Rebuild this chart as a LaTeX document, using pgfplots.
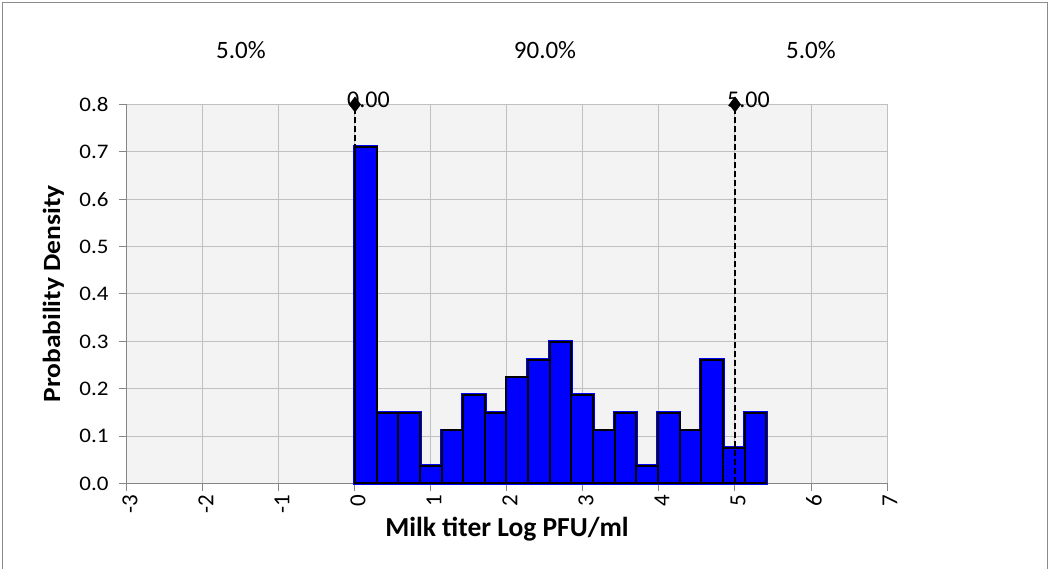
\documentclass[border=0pt]{standalone}
\usepackage{pgfplots}
\pgfplotsset{compat=1.18}
\usepackage{fontspec}
\usepackage{graphicx}
\setmainfont{Carlito}
\definecolor{gridc}{HTML}{C0C0C0}
\definecolor{axc}{HTML}{868686}
\definecolor{bgc}{HTML}{F3F3F3}
\definecolor{frc}{HTML}{8C8C8C}
\begin{document}
\begin{tikzpicture}[x=1pt,y=1pt]
\begin{axis}[
  scale only axis, width=760pt, height=379pt,
  xmin=-3, xmax=7, ymin=0, ymax=0.8,
  xtick={-3,...,7}, ytick={0,0.1,...,0.8},
  axis background/.style={fill=bgc},
  grid=major, major grid style={gridc, line width=1pt},
  axis line style={axc, line width=1pt},
  tick style={axc, line width=1pt},
  tick align=outside, major tick length=8pt,
  axis x line*=bottom, axis y line*=left,
  every x tick label/.style={rotate=90, anchor=east},
  /pgf/number format/assume math mode=true,
  yticklabel={\scalebox{1}[0.9]{\pgfmathprintnumber[fixed,fixed zerofill,precision=1]{\tick}}},
  xticklabel style={/pgf/number format/fixed},
  ticklabel style={font=\fontsize{23}{26}\selectfont},
  xticklabel style={yshift=-3pt},
  yticklabel style={xshift=-7pt},
  xlabel={\textbf{Milk titer Log PFU/ml}},
  ylabel={\scalebox{1}[0.9]{\textbf{Probability Density}}},
  label style={font=\fontsize{27.5}{30}\selectfont},
  xlabel style={at={(axis description cs:0.5,-0.12)}, anchor=center},
  ylabel style={at={(axis description cs:-0.097,0.5)}, anchor=center},
  clip=false,
]
\coordinate (ll) at (rel axis cs:0,0);
\addplot[ybar interval, fill=blue, draw=blue, line width=3.5pt] coordinates {
(0,0.710) (0.2847,0.1495) (0.5695,0.1495) (0.8542,0.0374) (1.1389,0.1121)
(1.4237,0.1869) (1.7084,0.1495) (1.9932,0.2242) (2.2779,0.2616) (2.5626,0.299)
(2.8474,0.1869) (3.1321,0.1121) (3.4168,0.1495) (3.7016,0.0374) (3.9863,0.1495)
(4.2711,0.1121) (4.5558,0.2616) (4.8405,0.0747) (5.1253,0.1495) (5.41,0.1495)
};
\addplot[ybar interval, fill=blue, draw=black, line width=2pt] coordinates {
(0,0.710) (0.2847,0.1495) (0.5695,0.1495) (0.8542,0.0374) (1.1389,0.1121)
(1.4237,0.1869) (1.7084,0.1495) (1.9932,0.2242) (2.2779,0.2616) (2.5626,0.299)
(2.8474,0.1869) (3.1321,0.1121) (3.4168,0.1495) (3.7016,0.0374) (3.9863,0.1495)
(4.2711,0.1121) (4.5558,0.2616) (4.8405,0.0747) (5.1253,0.1495) (5.41,0.1495)
};
\addplot[black, dash pattern=on 6pt off 3pt, line width=1.8pt, mark=diamond*, mark size=6.5pt, mark options={solid}, mark indices={2}] coordinates {(0,0) (0,0.8)};
\addplot[black, dash pattern=on 6pt off 3pt, line width=1.8pt, mark=diamond*, mark size=6.5pt, mark options={solid}, mark indices={2}] coordinates {(5,0) (5,0.8)};
\node[anchor=base west, font=\fontsize{24}{26}\selectfont, inner sep=0pt, xshift=-8pt, yshift=-3pt] at (axis cs:0,0.8) {0.00};
\node[anchor=base west, font=\fontsize{24}{26}\selectfont, inner sep=0pt, xshift=-8pt, yshift=-3pt] at (axis cs:5,0.8) {5.00};
\node[font=\fontsize{25}{28}\selectfont] at (axis cs:-1.5,0.914) {5.0\%};
\node[font=\fontsize{25}{28}\selectfont] at (axis cs:2.5,0.914) {90.0\%};
\node[font=\fontsize{25}{28}\selectfont] at (axis cs:6,0.914) {5.0\%};
\end{axis}
\draw[frc, line width=1.5pt] (ll) ++(-124.5,-90.5) rectangle ++(1045,571.5);
\pgfresetboundingbox
\path[use as bounding box] (ll) ++(-127,-85.5) rectangle ++(1050,569);
\end{tikzpicture}
\end{document}
